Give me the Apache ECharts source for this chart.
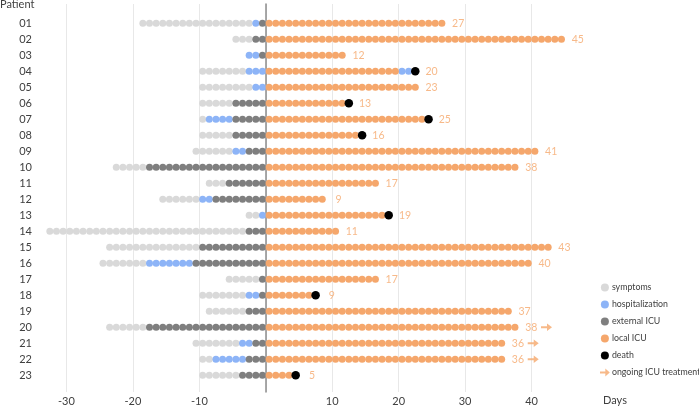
<!DOCTYPE html>
<html>
<head>
<meta charset="utf-8">
<script src="https://cdn.jsdelivr.net/npm/echarts@6/dist/echarts.min.js"></script>
<style>html,body{margin:0;padding:0;background:#fff}#c{width:699px;height:407px}</style>
</head>
<body>
<div id="c"></div>
<script>
// ---- data (days counted from dots in the reference) ----
const patients    = ['01','02','03','04','05','06','07','08','09','10','11','12','13','14','15','16','17','18','19','20','21','22','23'];
const symptomDays = [17, 3, 0, 7, 8, 5, 1, 5, 6, 5, 3, 6, 2,30,14, 7, 5, 7, 6, 6, 7, 2, 6];
const hospDays    = [ 1, 0, 2, 3, 2, 0, 4, 0, 2, 0, 0, 2, 1, 0, 0, 7, 0, 2, 0, 0, 2, 5, 0];
const extIcuDays  = [ 1, 2, 1, 0, 0, 5, 5, 5, 3,18, 6, 8, 0, 3,10,11, 1, 1, 3,18, 2, 3, 4];
const localIcuDots= [27,45,12,20,23,12,24,14,41,38,17, 9,18,11,43,40,17, 7,37,38,36,36, 4];
const hospAfter   = [ 0, 0, 0, 2, 0, 0, 0, 0, 0, 0, 0, 0, 0, 0, 0, 0, 0, 0, 0, 0, 0, 0, 0];
const died        = [ 0, 0, 0, 1, 0, 1, 1, 1, 0, 0, 0, 0, 1, 0, 0, 0, 0, 1, 0, 0, 0, 0, 1];
const ongoing     = [ 0, 0, 0, 0, 0, 0, 0, 0, 0, 0, 0, 0, 0, 0, 0, 0, 0, 0, 0, 1, 1, 1, 0];
const icuLabel    = [27,45,12,20,23,13,25,16,41,38,17, 9,19,11,43,40,17, 9,37,38,36,36, 5];
const xTicks      = [-30,-20,-10,10,20,30,40];

// ---- build point lists ----
const sym=[], hosp=[], ext=[], loc=[], dead=[], arrows=[], labels=[];
patients.forEach((p,i)=>{
  let pos = -(symptomDays[i]+hospDays[i]+extIcuDays[i]) + 0.5;
  for(let k=0;k<symptomDays[i];k++){sym.push([pos,p]);pos++;}
  for(let k=0;k<hospDays[i];k++){hosp.push([pos,p]);pos++;}
  for(let k=0;k<extIcuDays[i];k++){ext.push([pos,p]);pos++;}
  pos = 0.5;
  for(let k=0;k<localIcuDots[i];k++){loc.push([pos,p]);pos++;}
  for(let k=0;k<hospAfter[i];k++){hosp.push([pos,p]);pos++;}
  if(died[i]){dead.push([pos,p]);pos++;}
  const last = pos-1;
  labels.push({value:[last+2.45,p],lab:icuLabel[i]});
  if(ongoing[i]) arrows.push([last+4.75,p]);
});

const C = {sym:'#d9d9d9', hosp:'#8db4f7', ext:'#7f7f7f', loc:'#f5a76c', dead:'#000000'};
const FONT = 'Lato';
const arrowPath = 'path://M0,3.3 L6,3.3 L6,0 L11,4.5 L6,9 L6,5.7 L0,5.7 Z';

const gridL = -3.2, gridR = 101;
const dotSeries = (name,data,color,size)=>({
  name, type:'scatter', xAxisIndex:1, yAxisIndex:1, data,
  symbol:'circle', symbolSize:size, itemStyle:{color, opacity:1},
  emphasis:{disabled:true}, silent:true
});

const chart = echarts.init(document.getElementById('c'), null, {renderer:'canvas'});
chart.setOption({
  animation:false,
  textStyle:{fontFamily:FONT},
  graphic:[
    {type:'text', left:0, top:-1, style:{text:'Patient', fontFamily:FONT, fontSize:11, fill:'#404040'}},
    {type:'text', left:603, top:395, style:{text:'Days', fontFamily:FONT, fontSize:11, fill:'#404040'}}
  ],
  legend:{
    orient:'vertical', left:600, top:283, padding:0, itemGap:8,
    itemWidth:10, itemHeight:8, symbolKeepAspect:true,
    textStyle:{fontFamily:FONT, fontSize:8.8, color:'#404040', padding:[0,0,0,-3], overflow:'none'},
    selectedMode:false,
    data:['symptoms','hospitalization','external ICU','local ICU','death','ongoing ICU treatment']
  },
  grid:[
    {left:gridL, right:gridR, top:4, bottom:15},
    {left:gridL, right:gridR, top:15.3, height:368}
  ],
  xAxis:[
    {gridIndex:0, type:'value', min:-40, max:50, interval:10,
     axisLine:{show:false}, axisTick:{show:false},
     splitLine:{show:true, showMinLine:false, showMaxLine:false, lineStyle:{color:'#e8e8e8', width:1}},
     axisLabel:{showMinLabel:false, showMaxLabel:false, margin:4, fontFamily:FONT, fontSize:11, color:'#404040',
       formatter:v=> xTicks.indexOf(v)>=0 ? String(v) : ''}},
    {gridIndex:1, type:'value', min:-40, max:50, show:false}
  ],
  yAxis:[
    {gridIndex:0, type:'value', min:0, max:1,
     axisLine:{show:true, onZero:true, lineStyle:{color:'#8c8c8c', width:1.5}},
     axisTick:{show:false}, axisLabel:{show:false}, splitLine:{show:false}},
    {gridIndex:1, type:'category', inverse:true, data:patients,
     axisLine:{show:false}, axisTick:{show:false}, splitLine:{show:false},
     axisLabel:{margin:-32, align:'right', fontFamily:FONT, fontSize:11, color:'#404040', interval:0}}
  ],
  series:[
    dotSeries('symptoms', sym, C.sym, 7),
    dotSeries('hospitalization', hosp, C.hosp, 7),
    dotSeries('external ICU', ext, C.ext, 7),
    dotSeries('local ICU', loc, C.loc, 7),
    dotSeries('death', dead, C.dead, 8.5),
    {name:'ongoing ICU treatment', type:'scatter', xAxisIndex:1, yAxisIndex:1, data:arrows,
     symbol:arrowPath, symbolSize:[11,9], symbolKeepAspect:true, itemStyle:{color:C.loc}, silent:true},
    {name:'labels', type:'scatter', xAxisIndex:1, yAxisIndex:1, data:labels,
     symbolSize:0, silent:true,
     label:{show:true, position:'inside', formatter:p=>String(p.data.lab),
       fontFamily:FONT, fontSize:10.5, color:C.loc}}
  ]
});
</script>
</body>
</html>
